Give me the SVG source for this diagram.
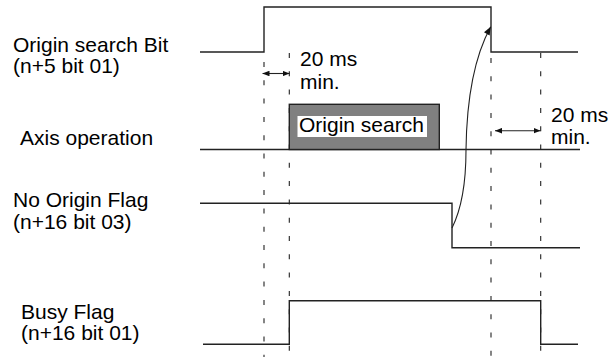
<svg xmlns="http://www.w3.org/2000/svg" width="612" height="357" viewBox="0 0 612 357">
<style>
.lbl{font-family:"Liberation Sans",Arial,sans-serif;font-size:21px;fill:#000}
.sig{fill:none;stroke:#222;stroke-width:1.4}
.dash{fill:none;stroke:#222;stroke-width:1.1;stroke-dasharray:5 13.3}
.dim{fill:none;stroke:#222;stroke-width:1.1}
</style>
<defs>
<marker id="ah" viewBox="0 0 10 8" refX="10" refY="4" markerWidth="7" markerHeight="5.6" markerUnits="userSpaceOnUse" orient="auto-start-reverse">
<path d="M0,0 L10,4 L0,8 Z" fill="#111"/>
</marker>
<marker id="ah2" viewBox="0 0 10 8" refX="10" refY="4" markerWidth="9" markerHeight="6.5" markerUnits="userSpaceOnUse" orient="auto">
<path d="M0,0 L10,4 L0,8 Z" fill="#111"/>
</marker>
</defs>
<rect width="612" height="357" fill="#fff"/>

<g id="origin-search-bit">
<text class="lbl" x="13" y="51.5">Origin search Bit</text>
<text class="lbl" x="13" y="73">(n+5 bit 01)</text>
<path class="sig" d="M200,52 H264 V7 H491 V52 H578"/>
</g>

<g id="axis-operation">
<text class="lbl" x="20" y="145">Axis operation</text>
<path class="sig" d="M200,149.5 H580"/>
<rect x="289.3" y="104.3" width="150" height="45.2" fill="#808080" stroke="#222" stroke-width="1.4"/>
<rect x="297.5" y="116" width="129.5" height="21" fill="#fff"/>
<text class="lbl" x="299" y="132">Origin search</text>
</g>

<g id="no-origin-flag">
<text class="lbl" x="13" y="207">No Origin Flag</text>
<text class="lbl" x="13" y="228.7">(n+16 bit 03)</text>
<path class="sig" d="M200,203.3 H452 V247.7 H580"/>
</g>

<g id="busy-flag">
<text class="lbl" x="21" y="318.6">Busy Flag</text>
<text class="lbl" x="21" y="340.4">(n+16 bit 01)</text>
<path class="sig" d="M203,344.3 H289.3 V300.7 H540.7 V344.3 H578"/>
</g>

<g id="timing-left">
<text class="lbl" x="300" y="66">20 ms</text>
<text class="lbl" x="300" y="88.5">min.</text>
</g>

<g id="timing-right">
<text class="lbl" x="551" y="121.7">20 ms</text>
<text class="lbl" x="551" y="144">min.</text>
</g>

<g id="connectors">
<path class="dash" d="M264,62 V357"/>
<path class="dash" d="M289.3,53 V357"/>
<path class="dash" d="M491,58 V357"/>
<path class="dash" d="M540.7,53 V357"/>
<path class="dim" d="M262.5,73.5 H289.5" marker-start="url(#ah)" marker-end="url(#ah)"/>
<path class="dim" d="M495,130.7 H540.5" marker-start="url(#ah)" marker-end="url(#ah)"/>
<path class="dim" d="M452,228 Q466,200 466,150 Q467,70 490.7,26.7" marker-end="url(#ah2)"/>
</g>
</svg>
